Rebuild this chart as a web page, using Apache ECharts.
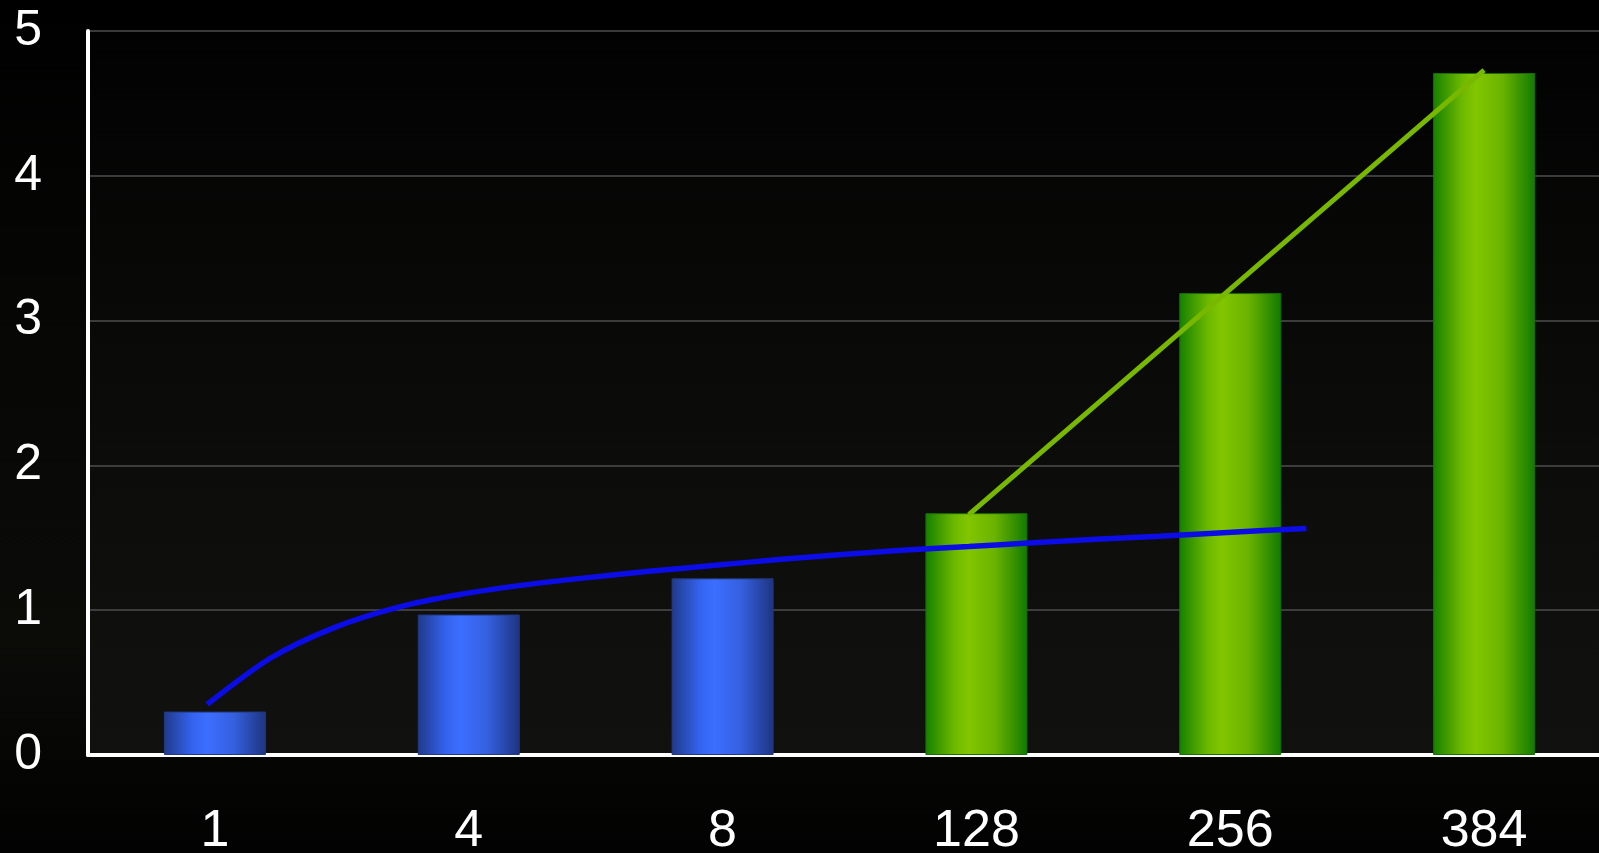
<!DOCTYPE html>
<html>
<head>
<meta charset="utf-8">
<script src="https://cdn.jsdelivr.net/npm/echarts@6/dist/echarts.min.js"></script>
<style>
  html, body { margin: 0; padding: 0; background: #000; overflow: hidden; width: 1599px; height: 853px; }
  #frame { position: relative; width: 1599px; height: 853px; overflow: hidden; }
  #chart { position: absolute; left: 0; top: 0; width: 1620px; height: 853px; }
</style>
</head>
<body>
<div id="frame"><div id="chart"></div></div>
<script>
// Category labels along the bottom axis
const categories = ['1', '4', '8', '128', '256', '384'];

// Bar heights; the first three are drawn blue, the last three green
const blueValues  = [0.30, 0.97, 1.22, null, null, null];
const greenValues = [null, null, null, 1.67, 3.19, 4.71];

// Blue curve sampled as [category position, value] pairs (0 = first category centre)
const blueCurve = [
  [-0.03, 0.35], [0.22, 0.67], [0.47, 0.88], [0.72, 1.02], [0.97, 1.11],
  [1.22, 1.175], [1.47, 1.225], [1.72, 1.27], [1.97, 1.31], [2.22, 1.35],
  [2.47, 1.385], [2.72, 1.415], [2.97, 1.44], [3.22, 1.465], [3.47, 1.49],
  [3.72, 1.51], [3.97, 1.535], [4.30, 1.565]
];

// Green straight line across the last three bars
const greenLine = [[2.97, 1.66], [5.00, 4.73]];

// Value axis ticks
const yTicks = [0, 1, 2, 3, 4, 5];

const blueFill = new echarts.graphic.LinearGradient(0, 0, 1, 0, [
  { offset: 0.00, color: '#203a8a' },
  { offset: 0.28, color: '#3463ef' },
  { offset: 0.42, color: '#3c6eff' },
  { offset: 0.68, color: '#3560e0' },
  { offset: 1.00, color: '#1e3480' }
]);
const greenFill = new echarts.graphic.LinearGradient(0, 0, 1, 0, [
  { offset: 0.00, color: '#168000' },
  { offset: 0.28, color: '#6cb800' },
  { offset: 0.42, color: '#82c600' },
  { offset: 0.68, color: '#6ab300' },
  { offset: 1.00, color: '#117a00' }
]);

const chart = echarts.init(document.getElementById('chart'), null, { renderer: 'canvas' });

chart.setOption({
  backgroundColor: new echarts.graphic.LinearGradient(0, 0, 0, 1, [
    { offset: 0.00, color: '#000000' },
    { offset: 0.35, color: '#060605' },
    { offset: 0.75, color: '#0b0b08' },
    { offset: 0.90, color: '#050504' },
    { offset: 1.00, color: '#020202' }
  ]),
  animation: false,
  grid: {
    left: 88, top: 31, right: 9, bottom: 98,
    outerBoundsMode: 'none',
    containLabel: false,
    show: true, borderWidth: 0,
    backgroundColor: new echarts.graphic.LinearGradient(0, 0, 0, 1, [
      { offset: 0.0, color: 'rgba(2,2,2,0.9)' },
      { offset: 0.5, color: 'rgba(11,11,10,0.9)' },
      { offset: 1.0, color: 'rgba(18,18,16,0.9)' }
    ])
  },
  xAxis: [
    {
      type: 'category',
      data: categories,
      boundaryGap: true,
      axisLine: { show: true, onZero: false, lineStyle: { color: '#ffffff', width: 4 } },
      axisTick: { show: false },
      axisLabel: {
        color: '#ffffff', fontFamily: 'Liberation Sans, Arial, sans-serif',
        fontSize: 52, margin: 51
      },
      splitLine: { show: false }
    },
    {
      type: 'value', min: -0.5, max: 5.5, show: false
    }
  ],
  yAxis: {
    type: 'value', min: yTicks[0], max: yTicks[yTicks.length - 1], interval: 1,
    axisLine: { show: true, onZero: false, lineStyle: { color: '#ffffff', width: 4 } },
    axisTick: { show: false },
    axisLabel: {
      color: '#ffffff', fontFamily: 'Liberation Sans, Arial, sans-serif',
      fontSize: 50, margin: 46
    },
    splitLine: { show: true, lineStyle: { color: '#4e4e4e', width: 1.5 } }
  },
  series: [
    {
      type: 'bar', data: blueValues, barWidth: 102, barGap: '-100%',
      itemStyle: { color: blueFill, borderColor: '#22397e', borderWidth: 1 }
    },
    {
      type: 'bar', data: greenValues, barWidth: 102, barGap: '-100%',
      itemStyle: { color: greenFill, borderColor: '#157000', borderWidth: 1 }
    },
    {
      type: 'line', xAxisIndex: 1, data: blueCurve, smooth: 0.3,
      showSymbol: false, symbol: 'none',
      lineStyle: { color: '#0c0ce6', width: 5.5, cap: 'butt' }
    },
    {
      type: 'line', xAxisIndex: 1, data: greenLine,
      showSymbol: false, symbol: 'none',
      lineStyle: { color: '#78b800', width: 5, cap: 'butt' }
    }
  ]
});
</script>
</body>
</html>
